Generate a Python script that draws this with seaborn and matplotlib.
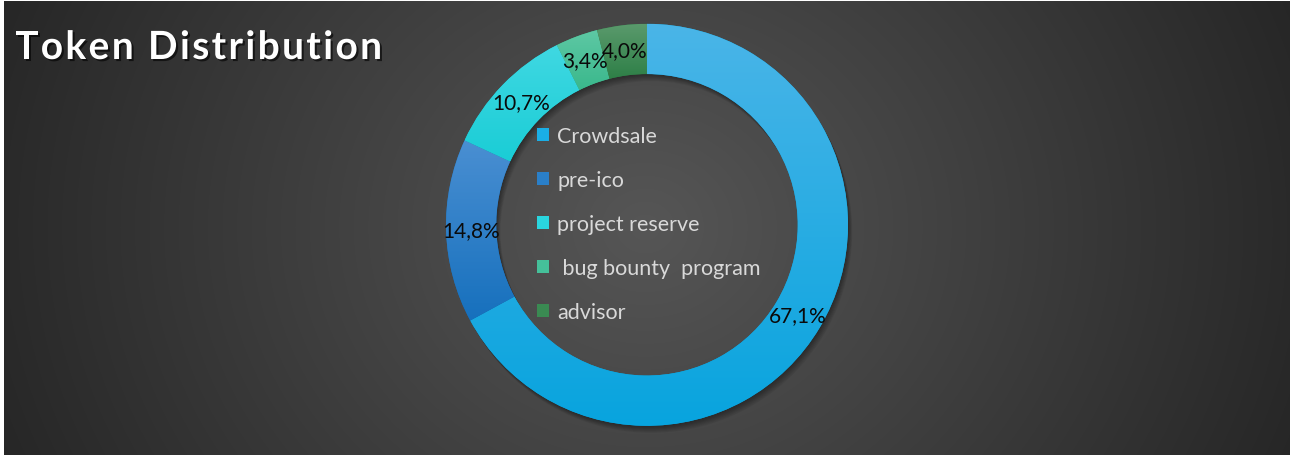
import numpy as np
import matplotlib
matplotlib.use("Agg")
import matplotlib.pyplot as plt
import seaborn as sns
from matplotlib.patches import Patch, Wedge
import matplotlib.patheffects as pe
from matplotlib.colors import LinearSegmentedColormap
from matplotlib.font_manager import FontProperties

# ---- data ----
categories = ["Crowdsale", "pre-ico", "project reserve", " bug bounty  program", "advisor"]
shares = [67.1, 14.8, 10.7, 3.4, 4.0]
pct_labels = ["67,1%", "14,8%", "10,7%", "3,4%", "4,0%"]
title = "Token Distribution"
top_colors = ["#4ab5e8", "#4a8fd2", "#40d8e2", "#5ec8a4", "#5a9a6c"]
bottom_colors = ["#08a4de", "#1670bd", "#1acdd6", "#3ab88c", "#2e7f47"]
legend_colors = ["#1aaee6", "#2a7fc8", "#2ad5de", "#45c09a", "#3a8a52"]

sns.set_theme(style="dark")
plt.rcParams['font.family'] = ['Lato', 'DejaVu Sans']

W, H = 1290, 456
fig = plt.figure(figsize=(W / 100, H / 100), dpi=100, facecolor='white')

# background radial gradient
bg = fig.add_axes([4 / W, 0, 1 - 4 / W, 1 - 2 / H])
xs = np.arange(4, W)
ys = np.arange(2, H)
X, Y = np.meshgrid(xs, ys)
r = np.sqrt(((X - 645) / 700.0) ** 2 + ((Y - 228) / 620.0) ** 2)
v = (86 - 48 * np.clip(r, 0, 1)) / 255.0
bg.imshow(np.dstack([v, v, v]), aspect='auto', extent=(0, 1, 0, 1), origin='upper')
bg.axis('off')

# donut axes
cx, cy = 647, H - 225.8
R = 201.0
S = 420.0
ax = fig.add_axes([(cx - S / 2) / W, (cy - S / 2) / H, S / W, S / H])
L = (S / 2) / R
ax.set_facecolor('none')
ring_w = 0.25

# soft drop shadow of the ring
px = 1.0 / R
for k in range(1, 8):
    sh = Wedge((0.6 * k * px, -k * px), 1.0, 0, 360, width=ring_w,
               facecolor='black', edgecolor='none', alpha=0.06, zorder=0.5)
    ax.add_patch(sh)

wedges, _ = ax.pie(shares, startangle=90, counterclock=False, radius=1.0,
                   wedgeprops=dict(width=ring_w, linewidth=0))

for w, ct, cb in zip(wedges, top_colors, bottom_colors):
    w.set_facecolor(cb)
    w.set_zorder(1)
    bb = w.get_path().get_extents()
    cmap = LinearSegmentedColormap.from_list('g', [cb, ct])
    grad = np.linspace(0, 1, 256).reshape(-1, 1)
    im = ax.imshow(grad, cmap=cmap, extent=(bb.x0, bb.x1, bb.y0, bb.y1),
                   origin='lower', aspect='auto', zorder=1.1, interpolation='bilinear')
    im.set_clip_path(w)

rl = 1.0 - ring_w / 2
for w, lab in zip(wedges, pct_labels):
    ang = np.deg2rad((w.theta1 + w.theta2) / 2)
    ax.text(rl * np.cos(ang), rl * np.sin(ang), lab, ha='center', va='center',
            fontsize=15, color='#0a0a0a', zorder=3)

ax.set_xlim(-L, L)
ax.set_ylim(-L, L)
ax.axis('off')

# legend inside the hole
handles = [Patch(facecolor=c, edgecolor='none') for c in legend_colors]
leg = fig.legend(handles, categories, loc='center left',
                 bbox_to_anchor=(537 / W, 1 - 225 / H), frameon=False,
                 fontsize=15.5, labelcolor='#d9d9d9', handlelength=0.56,
                 handleheight=0.56, handletextpad=0.38, labelspacing=1.12,
                 borderpad=0, borderaxespad=0)

# title with letter spacing
renderer = fig.canvas.get_renderer()
fp = FontProperties(family=['Lato', 'DejaVu Sans'], weight='bold', size=28)
def tw(s):
    w_s, _, _ = renderer.get_text_width_height_descent(s + 'x', fp, ismath=False)
    w_x, _, _ = renderer.get_text_width_height_descent('x', fp, ismath=False)
    return w_s - w_x
full_w = tw(title)
target_w = 367.0
gap = (target_w - full_w) / (len(title) - 1)
x0 = 15.0
shadow = [pe.withSimplePatchShadow(offset=(1.5, -1.5), shadow_rgbFace='black', alpha=0.6)]
for i, ch in enumerate(title):
    if ch == ' ':
        continue
    xi = x0 + tw(title[:i]) + i * gap
    fig.text(xi / W, 1 - 60 / H, ch, fontproperties=fp, color='white',
             va='baseline', ha='left', path_effects=shadow)

fig.savefig('out.png', dpi=100, facecolor='white')
